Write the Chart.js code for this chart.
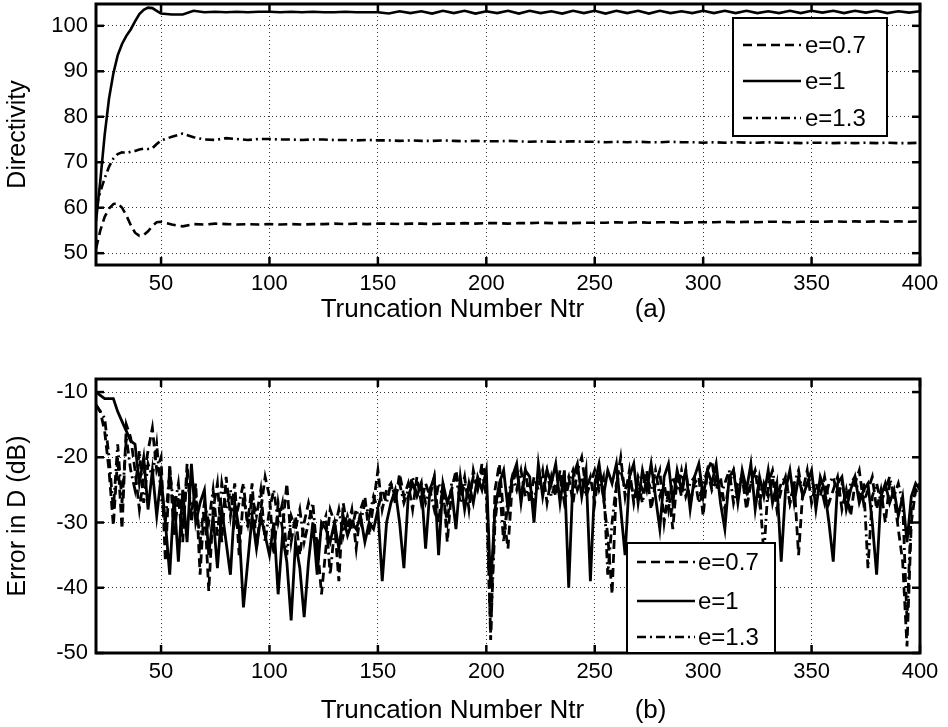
<!DOCTYPE html>
<html><head><meta charset="utf-8">
<script src="https://cdn.jsdelivr.net/npm/chart.js@4"></script>
<style>
html,body{margin:0;padding:0;background:#fff;width:948px;height:727px;overflow:hidden}
#w1{position:absolute;left:0;top:0;width:948px;height:330px}
#w2{position:absolute;left:0;top:340px;width:948px;height:387px}
</style></head><body>
<div id="w1"><canvas id="c1"></canvas></div>
<div id="w2"><canvas id="c2"></canvas></div>
<script>
// ---------- data ----------
const seriesLabels = ['e=0.7', 'e=1', 'e=1.3'];
const xTicks = [50, 100, 150, 200, 250, 300, 350, 400];
const dirTicks = [50, 60, 70, 80, 90, 100];
const errTicks = [-50, -40, -30, -20, -10];

const topX = [20,22,24,26,28,30,32,34,36,38,40,42,44,46,48,50,55,60,65,70,75,80,85,90,95,100,105,110,115,120,125,130,135,140,145,150,155,160,165,170,175,180,185,190,195,200,205,210,215,220,225,230,235,240,245,250,255,260,265,270,275,280,285,290,295,300,305,310,315,320,325,330,335,340,345,350,355,360,365,370,375,380,385,390,395,400];

const dirE07 = [51,55,58,59.8,60.8,61,60,58.3,56.2,54.5,53.8,54,54.8,56,56.8,56.9,
56.3,55.9,56.4,56.3,56.5,56.4,56.3,56.4,56.3,56.4,
56.3,56.4,56.3,56.4,56.4,56.5,56.4,56.5,56.4,56.5,
56.5,56.4,56.5,56.5,56.4,56.5,56.5,56.6,56.5,56.6,
56.6,56.5,56.6,56.6,56.7,56.6,56.7,56.6,56.7,56.7,
56.7,56.8,56.7,56.8,56.7,56.8,56.8,56.7,56.8,56.8,
56.8,56.9,56.8,56.9,56.8,56.9,56.9,56.8,56.9,56.9,
56.9,57.0,56.9,57.0,56.9,57.0,56.9,57.0,56.9,57.0];

const dirE1 = [57,66,76,84,89.5,93.5,96,97.8,99.2,101,102.6,103.5,104,103.9,103.3,102.7,
102.5,102.5,103.3,103.0,103.1,103.0,103.1,103.0,103.1,103.1,
103.0,103.1,103.0,103.1,103.0,103.0,103.1,103.0,103.0,103.0,
102.7,103.2,102.8,103.2,102.7,103.3,102.8,103.3,102.7,103.2,
102.8,103.3,102.7,103.3,102.8,103.2,102.7,103.3,102.8,103.3,
102.7,103.3,102.8,103.3,102.7,103.3,102.8,103.2,102.8,103.3,
102.8,103.3,102.8,103.3,102.8,103.2,102.8,103.3,102.8,103.3,
102.9,103.3,102.8,103.3,102.9,103.3,102.8,103.2,102.9,103.2];

const dirE13 = [60,63.5,66.5,69,70.8,71.8,72.2,72.0,72.3,72.5,72.8,73,72.9,73.1,74,74.8,
75.6,76.3,75.5,75.0,74.9,75.3,75.1,74.9,75.1,75.1,
75.0,75.0,74.9,75.0,75.0,74.9,74.9,74.8,74.9,74.8,
74.8,74.7,74.8,74.7,74.7,74.8,74.7,74.6,74.7,74.6,
74.6,74.7,74.6,74.5,74.6,74.5,74.5,74.6,74.5,74.5,
74.4,74.5,74.4,74.5,74.4,74.4,74.5,74.4,74.4,74.3,
74.4,74.3,74.4,74.3,74.3,74.4,74.3,74.3,74.2,74.3,
74.3,74.2,74.3,74.2,74.3,74.2,74.3,74.2,74.2,74.3];

const botX = [20,22,24,26,28,30,32,34,36,38,40,42,44,46,48,50,52,54,56,58,
60,62,64,66,68,70,72,74,76,78,80,82,84,86,88,90,92,94,96,98,
100,102,104,106,108,110,112,114,116,118,120,122,124,126,128,130,132,134,136,138,
140,142,144,146,148,150,152,154,156,158,160,162,164,166,168,170,172,174,176,178,
180,182,184,186,188,190,192,194,196,198,200,202,204,206,208,210,212,214,216,218,
220,222,224,226,228,230,232,234,236,238,240,242,244,246,248,250,252,254,256,258,
260,262,264,266,268,270,272,274,276,278,280,282,284,286,288,290,292,294,296,298,
300,302,304,306,308,310,312,314,316,318,320,322,324,326,328,330,332,334,336,338,
340,342,344,346,348,350,352,354,356,358,360,362,364,366,368,370,372,374,376,378,
380,382,384,386,388,390,392,394,396,398,400];

const errE07 = [
-12,-13,-16,-22,-30.5,-20,-31,-15,-17,-22,
-28,-23,-19,-15.5,-22,-20,-36,-21,-32,-26,
-33,-21,-30,-24,-38,-27,-40.5,-28,-24,-33,
-23,-29,-24,-35,-26,-30,-24,-34,-28,-23,
-26,-35,-27,-31,-24,-33,-29,-35,-30,-27,
-30,-33,-41,-34,-28,-30,-39,-27,-31,-28,
-34,-28,-26,-32,-27,-22,-28,-25,-24,-27,
-22.5,-26,-24,-28,-23,-27,-24,-26,-23,-30,
-24,-33,-25,-22,-26,-23,-28,-22,-25,-21,
-23,-48,-25,-21,-29,-34,-24,-22,-26,-22,
-27,-23,-25,-22,-27,-23,-26,-22,-25,-23,
-27,-22,-20,-25,-23,-27,-22,-26,-32,-41,
-24,-20,-26,-22,-27,-23,-25,-22,-28,-24,
-22,-30,-25,-31,-23,-26,-22,-27,-24,-23,
-29,-22,-20.5,-25,-23,-28,-24,-22,-26,-23,
-28,-24,-22,-27,-24,-26,-23,-28,-25,-23,
-27,-24,-35,-25,-22,-27,-24,-26,-23,-27,
-25,-23,-28,-25,-29,-24,-22,-27,-25,-23,
-28,-25,-30,-24,-26,-31,-36,-49,-30,-25,
-26];

const errE1 = [
-10,-10.5,-11,-11,-11,-13,-14.5,-16,-17.5,-18,
-24,-20,-28,-22,-29,-23,-30,-38,-26,-36,
-25,-33,-21,-30,-27,-25,-35,-29,-37,-28,
-33,-38,-27,-31,-43,-36,-29,-34,-29,-32,
-35,-30,-41,-32,-36,-45,-33,-37,-44.5,-36,
-30,-38,-30,-31,-33,-30,-34,-29,-32,-30,
-31,-29,-33,-30,-31,-28,-39,-30,-27,-25,
-30,-37,-26,-24,-26,-24,-34,-25,-23,-35,
-24,-27,-25,-31,-23,-28,-24,-27,-23,-25,
-22,-40,-28,-24,-22,-28,-23,-21,-27,-22,
-23,-30,-21,-26,-22,-24,-21,-27,-22,-40,
-23,-21,-26,-22,-39,-24,-21,-26,-22,-24,
-21,-28,-35,-23,-21,-27,-22,-25,-21,-26,
-31,-23,-21,-27,-22,-25,-22,-28,-23,-21,
-26,-22,-24,-21,-27,-31,-23,-22,-27,-22,
-25,-21,-28,-23,-26,-22,-27,-24,-36,-25,
-22,-27,-23,-26,-24,-22,-28,-23,-25,-30,
-36,-24,-23,-28,-25,-23,-27,-25,-24,-30,
-38,-26,-24,-27,-25,-29,-26,-33,-26,-24,
-25];

const errE13 = [
-12,-13,-14,-20,-28,-18,-27,-17,-22,-25,
-19,-27,-21,-23,-18,-26,-30,-22,-28,-24,
-31,-23,-28,-26,-33,-27,-30,-25,-32,-24,
-28,-25,-30,-27,-24,-31,-26,-29,-25,-33,
-28,-25,-30,-27,-35,-29,-31,-28,-33,-30,
-27,-35,-31,-29,-38,-31,-28,-32,-29,-31,
-28,-30,-27,-29,-26,-28,-25,-27,-24,-26,
-24,-27,-25,-23,-26,-24,-27,-25,-28,-24,
-26,-30,-24,-23,-27,-24,-26,-23,-25,-22,
-26,-47,-30,-24,-33,-26,-23,-25,-22,-26,
-24,-27,-23,-25,-22,-26,-24,-23,-27,-24,
-22,-25,-23,-26,-24,-22,-25,-23,-38,-30,
-24,-22,-25,-23,-26,-24,-27,-23,-25,-22,
-26,-24,-28,-23,-25,-22,-26,-24,-23,-27,
-24,-22,-25,-23,-26,-24,-22,-27,-24,-23,
-26,-24,-22,-25,-35,-24,-22,-26,-24,-23,
-27,-24,-22,-26,-24,-23,-26,-24,-27,-24,
-23,-26,-24,-27,-24,-23,-26,-24,-37,-26,
-24,-27,-25,-23,-26,-24,-27,-45,-28,-25,
-24];

// ---------- styling ----------
const FONT = "'Liberation Sans', Arial, sans-serif";
const dashes = [[9, 5], [], [9, 4, 2, 4]];

function line(ctx, x1, y1, x2, y2) { ctx.beginPath(); ctx.moveTo(x1, y1); ctx.lineTo(x2, y2); ctx.stroke(); }

const matlabFrame = {
  id: 'matlabFrame',
  afterDatasetsDraw(chart, args, o) {
    const { ctx, chartArea: a, scales } = chart;
    ctx.save();
    ctx.setLineDash([]);
    ctx.strokeStyle = '#000';
    ctx.lineWidth = 2.5;
    const L = 8;
    scales.x.ticks.forEach(t => {
      const p = scales.x.getPixelForValue(t.value);
      line(ctx, p, a.bottom, p, a.bottom - L);
      line(ctx, p, a.top, p, a.top + L);
    });
    scales.y.ticks.forEach(t => {
      const p = scales.y.getPixelForValue(t.value);
      line(ctx, a.left, p, a.left + L, p);
      line(ctx, a.right, p, a.right - L, p);
    });
    ctx.lineWidth = 3;
    ctx.strokeRect(a.left, a.top, a.right - a.left, a.bottom - a.top);
    const lg = o.legend;
    ctx.fillStyle = '#fff';
    ctx.fillRect(lg.x1, lg.y1, lg.x2 - lg.x1, lg.y2 - lg.y1);
    ctx.lineWidth = 2;
    ctx.strokeRect(lg.x1, lg.y1, lg.x2 - lg.x1, lg.y2 - lg.y1);
    chart.data.datasets.forEach((ds, i) => {
      const y = lg.rows[i];
      ctx.setLineDash(ds.borderDash || []);
      ctx.lineWidth = 2.6;
      line(ctx, lg.lx1, y, lg.lx2, y);
      ctx.setLineDash([]);
      ctx.fillStyle = '#000';
      ctx.font = '24px ' + FONT;
      ctx.textBaseline = 'middle';
      ctx.textAlign = 'left';
      ctx.fillText(ds.label, lg.tx, y + 1);
    });
    ctx.restore();
  }
};

function makeDatasets(xs, arrs, w) {
  return arrs.map((arr, i) => ({
    label: seriesLabels[i],
    data: xs.map((x, j) => ({ x: x, y: arr[j] })),
    borderColor: '#000',
    borderWidth: w,
    borderDash: dashes[i],
    pointRadius: 0,
    tension: 0,
    fill: false
  }));
}

function makeChart(id, datasets, yMin, yMax, yTicks, yTitle, xTitle, pad, xH, titleBottom, legend) {
  return new Chart(document.getElementById(id), {
    type: 'line',
    data: { datasets: datasets },
    plugins: [matlabFrame],
    options: {
      animation: false,
      responsive: true,
      maintainAspectRatio: false,
      devicePixelRatio: 1,
      layout: { padding: pad },
      plugins: { legend: { display: false }, tooltip: { enabled: false }, matlabFrame: { legend: legend } },
      scales: {
        x: {
          type: 'linear', min: 20, max: 400,
          afterBuildTicks(s) { s.ticks = xTicks.map(v => ({ value: v })); },
          afterFit(s) { s.height = xH; s.paddingLeft = 0; s.paddingRight = 0; },
          grid: { color: '#333', lineWidth: 1, drawTicks: false },
          border: { display: false, dash: [1, 3] },
          ticks: { color: '#000', font: { family: FONT, size: 22 }, padding: 6, maxRotation: 0, autoSkip: false },
          title: { display: true, text: xTitle, color: '#000', font: { family: FONT, size: 26 }, padding: { top: 0, bottom: titleBottom } }
        },
        y: {
          type: 'linear', min: yMin, max: yMax,
          afterBuildTicks(s) { s.ticks = yTicks.map(v => ({ value: v })); },
          afterFit(s) { s.width = 96; s.paddingTop = 0; s.paddingBottom = 0; },
          grid: { color: '#333', lineWidth: 1, drawTicks: false },
          border: { display: false, dash: [1, 3] },
          ticks: { color: '#000', font: { family: FONT, size: 22 }, padding: 8, autoSkip: false },
          title: { display: true, text: yTitle, color: '#000', font: { family: FONT, size: 25 }, padding: { top: 3, bottom: 0 } }
        }
      }
    }
  });
}

makeChart('c1', makeDatasets(topX, [dirE07, dirE1, dirE13], 2.6), 47.4, 104.8, dirTicks,
  'Directivity', 'Truncation Number Ntr       (a)    ',
  { left: 0, right: 28, top: 4, bottom: 0 }, 65, 5,
  { x1: 733, y1: 18, x2: 887, y2: 136, rows: [45, 81, 118], lx1: 743, lx2: 801, tx: 805 });

makeChart('c2', makeDatasets(botX, [errE07, errE1, errE13], 2.8), -50, -8, errTicks,
  'Error in D (dB)', 'Truncation Number Ntr       (b)    ',
  { left: 0, right: 28, top: 39, bottom: 0 }, 74, 1,
  { x1: 627, y1: 203, x2: 775, y2: 313, rows: [222, 261, 297], lx1: 637, lx2: 695, tx: 698 });
</script>
</body></html>
